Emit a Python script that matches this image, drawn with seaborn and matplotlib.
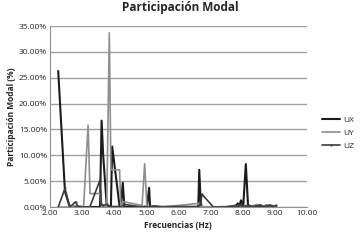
"""Participación modal por frecuencia (UX, UY, UZ)."""
import matplotlib
matplotlib.use("Agg")
import matplotlib.pyplot as plt
import seaborn as sns
import pandas as pd
import numpy as np
from matplotlib.ticker import FuncFormatter

# %%
# Datos (frecuencia en Hz, participacion en %)
freq = [2.26, 2.47, 2.62, 2.80, 2.88, 3.05, 3.19, 3.25, 3.56, 3.61, 3.66,
        3.77, 3.85, 3.90, 3.94, 4.17, 4.21, 4.27, 4.32, 4.87, 4.95, 5.02,
        5.09, 5.12, 5.25, 5.50, 6.00, 6.62, 6.65, 6.70, 6.73, 7.09, 7.50,
        7.80, 7.85, 7.90, 7.95, 8.02, 8.10, 8.17, 8.30, 8.45, 8.55, 8.65,
        8.75, 8.85, 8.95, 9.05]
ux = [26.3, 3.0, 0.0, 0.2, 0.0, 0.0, 0.0, 0.0, 0.0, 16.7, 10.0,
      0.3, 0.0, 0.0, 11.7, 0.2, 0.0, 4.7, 0.0, 0.0, 0.1, 0.0,
      3.7, 0.0, 0.1, 0.0, 0.0, 0.0, 7.2, 0.3, 0.0, 0.0, 0.0,
      0.3, 0.7, 0.2, 1.3, 0.2, 8.3, 0.2, 0.1, 0.3, 0.2, 0.1,
      0.3, 0.1, 0.2, 0.0]
uy = [0.0, 0.0, 0.0, 0.3, 0.2, 0.1, 15.8, 2.6, 2.6, 0.3, 0.2,
      0.1, 33.7, 7.2, 7.2, 7.2, 0.1, 1.0, 1.0, 0.3, 8.4, 0.2,
      0.0, 0.0, 0.1, 0.1, 0.3, 0.7, 0.2, 0.2, 0.1, 0.0, 0.1,
      0.2, 0.3, 0.1, 0.2, 0.1, 0.2, 0.3, 0.2, 0.5, 0.3, 0.2,
      0.4, 0.2, 0.3, 0.2]
uz = [0.0, 3.6, 0.0, 1.0, 0.1, 0.0, 0.0, 0.1, 5.2, 0.4, 0.3,
      0.5, 0.2, 0.1, 0.1, 0.1, 0.0, 0.3, 0.5, 0.0, 0.0, 0.0,
      0.0, 0.1, 0.2, 0.0, 0.1, 0.1, 0.3, 0.5, 2.5, 0.0, 0.0,
      0.2, 0.1, 0.4, 0.3, 0.1, 0.2, 0.4, 0.1, 0.2, 0.4, 0.1,
      0.2, 0.4, 0.1, 0.3]

series = ["UX", "UY", "UZ"]
colors = {"UX": "#1c1c1c", "UY": "#8e8e8e", "UZ": "#3c3c3c"}
widths = {"UX": 1.5, "UY": 1.2, "UZ": 1.2}
markers = {"UX": None, "UY": None, "UZ": "o"}

df = pd.DataFrame({"freq": freq, "UX": ux, "UY": uy, "UZ": uz})
df = df.melt(id_vars="freq", var_name="dir", value_name="part")

# %%
sns.set_style("white")
plt.rcParams["font.family"] = ["Open Sans", "DejaVu Sans"]

fig = plt.figure(figsize=(3.64, 2.41), dpi=100)
ax = fig.add_axes([0.137, 0.141, 0.706, 0.751])

for s in series:
    sub = df[df["dir"] == s]
    sns.lineplot(data=sub, x="freq", y="part", ax=ax, color=colors[s],
                 linewidth=widths[s], marker=markers[s], markersize=1.5,
                 markeredgewidth=0, estimator=None, sort=False, label=s)

ax.set_xlim(2, 10)
ax.set_ylim(0, 35)
ax.set_xticks(np.arange(2, 11, 1))
ax.set_yticks(np.arange(0, 36, 5))
ax.xaxis.set_major_formatter(FuncFormatter(lambda v, p: f"{v:.2f}"))
ax.yaxis.set_major_formatter(FuncFormatter(lambda v, p: f"{v:.2f}%"))
ax.tick_params(labelsize=6, length=0, pad=2)
ax.grid(axis="y", color="#a0a0a0", linewidth=1)
ax.set_axisbelow(True)
for side in ["top", "right"]:
    ax.spines[side].set_visible(False)
for side in ["left", "bottom"]:
    ax.spines[side].set_color("#909090")
    ax.spines[side].set_linewidth(0.8)

ax.set_xlabel("Frecuencias (Hz)", fontsize=6, fontweight="bold", labelpad=3)
ax.set_ylabel("Participación Modal (%)", fontsize=6, fontweight="bold", labelpad=2)
fig.suptitle("Participación Modal", fontsize=8.5, fontweight="bold",
             x=0.495, y=0.995)

ax.legend(loc="center left", bbox_to_anchor=(1.03, 0.41), frameon=False,
          fontsize=6, handlelength=2.2, handletextpad=0.3, labelspacing=0.6)

plt.savefig("out.png", dpi=100)
